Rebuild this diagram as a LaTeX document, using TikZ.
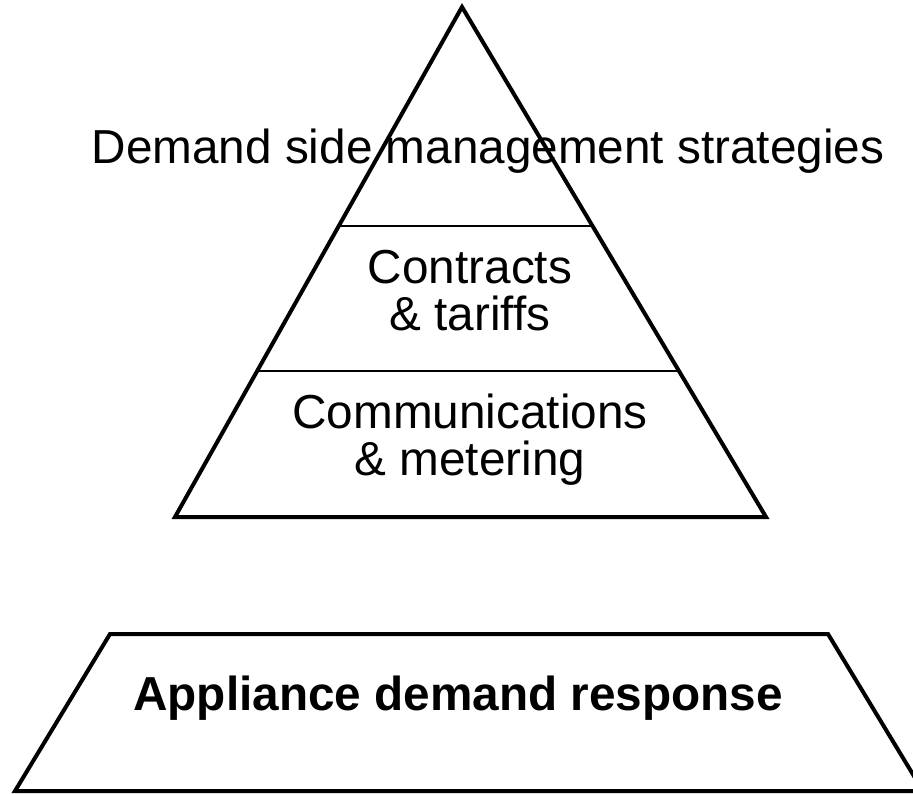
\documentclass[tikz,border=0pt]{standalone}
\usepackage{fontspec}
\setmainfont{Liberation Sans}
\usetikzlibrary{calc}
\begin{document}
\begin{tikzpicture}[x=1pt,y=-1pt,
  txt/.style={font=\fontsize{47.7}{47}\selectfont, inner sep=0pt, anchor=base},
  heavy/.style={line width=4pt, line join=miter},
  divider/.style={line width=1.5pt}]
\useasboundingbox (0,0) rectangle (913,793);
\clip (0,0) rectangle (913,793);

% pyramid corners
\coordinate (apex) at (462,7);
\coordinate (bl) at (175,517);
\coordinate (br) at (766,517);

% labels
\node[txt] (dsm) at (488,163) {Demand side management strategies};
\node[txt] (ct1) at (470,283) {Contracts};
\node[txt] (ct2) at (470,330) {\& tariffs};
\node[txt] (cm1) at (470,428) {Communications};
\node[txt] (cm2) at (470,475) {\& metering};
\node[txt, font=\fontsize{47.7}{47}\selectfont\bfseries] (adr) at (458,710) {Appliance demand response};

% layer dividers
\draw[divider] ($(apex)!0.4294!(bl)$) -- ($(apex)!0.4294!(br)$);
\draw[divider] ($(apex)!0.7137!(bl)$) -- ($(apex)!0.7137!(br)$);

% pyramid outline
\draw[heavy] (apex) -- (br) -- (bl) -- cycle;

% base trapezoid
\coordinate (tl) at (110,634);
\coordinate (tr) at (828,634);
\coordinate (rr) at (923,791);
\coordinate (ll) at (15,791);
\draw[heavy] (tl) -- (tr) -- (rr) -- (ll) -- cycle;
\end{tikzpicture}
\end{document}
